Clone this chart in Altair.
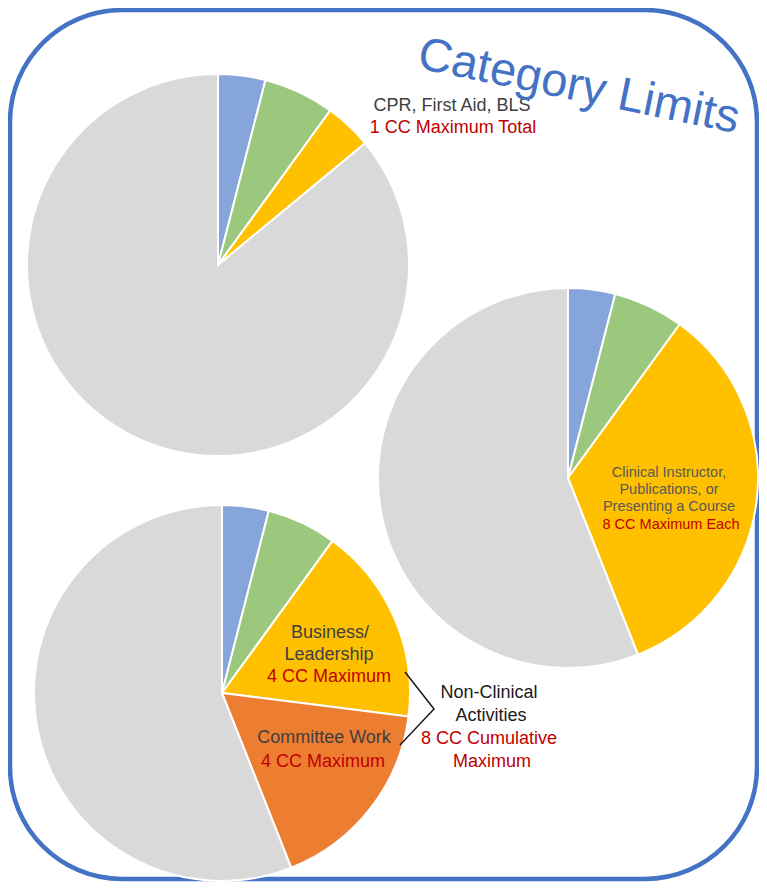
import altair as alt
import pandas as pd

# ---------------- data ----------------
BLUE = "#86A5DA"
GREEN = "#9BC87D"
YELLOW = "#FFC000"
ORANGE = "#ED7D31"
GREY = "#D9D9D9"
FRAME = "#4472C4"
RED = "#C00000"
DARK = "#404040"

pie1_values = [4, 6, 4, 86]
pie1_colors = [BLUE, GREEN, YELLOW, GREY]
pie2_values = [4, 6, 34, 56]
pie2_colors = [BLUE, GREEN, YELLOW, GREY]
pie3_values = [4, 6, 17, 17, 56]
pie3_colors = [BLUE, GREEN, YELLOW, ORANGE, GREY]

pie_cx = [218, 568, 222]
pie_cy = [265, 478, 693]
pie_r = [191, 190, 188]

label_text = [
    "CPR, First Aid, BLS", "1 CC Maximum Total",
    "Clinical Instructor,", "Publications, or", "Presenting a Course", "8 CC Maximum Each",
    "Business/", "Leadership", "4 CC Maximum",
    "Committee Work", "4 CC Maximum",
    "Non-Clinical", "Activities", "8 CC Cumulative", "Maximum",
]
label_x = [452, 453, 669, 669, 669, 671, 330, 329, 329, 324, 323, 489, 491, 489, 492]
label_y = [106, 128, 473, 490, 507, 525, 633, 655, 677, 738, 762, 693, 716, 739, 762]
label_color = [DARK, RED, "#595959", "#595959", "#595959", RED,
               DARK, DARK, RED, DARK, RED, "#1A1A1A", "#1A1A1A", RED, RED]
label_size = [18, 18, 14.5, 14.5, 14.5, 14.5, 18, 18, 18, 18, 18, 18, 18, 18, 18]

title_text = ["Category Limits"]
title_x = [416]
title_y = [68]

bracket_x = [405, 434, 400]
bracket_y = [672, 709, 745]

frame_x = [10]
frame_x2 = [757]
frame_y = [10]
frame_y2 = [879]

# ---------------- chart ----------------
W, H = 751, 874
xs = alt.Scale(domain=[8, 8 + W], nice=False, zero=False)
ys = alt.Scale(domain=[8, 8 + H], nice=False, zero=False, reverse=True)


def pie(values, colors, cx, cy, r):
    df = pd.DataFrame({
        "order": list(range(len(values))),
        "value": values,
        "color": colors,
        "cx": [cx] * len(values),
        "cy": [cy] * len(values),
    })
    return alt.Chart(df).mark_arc(radius=r, stroke="white", strokeWidth=2).encode(
        theta=alt.Theta("value:Q", stack=True, scale=alt.Scale(domain=[0, 100])),
        order=alt.Order("order:Q"),
        color=alt.Color("color:N", scale=None),
        x=alt.X("cx:Q", scale=xs, axis=None),
        y=alt.Y("cy:Q", scale=ys, axis=None),
    )


frame = alt.Chart(pd.DataFrame({"x": frame_x, "x2": frame_x2, "y": frame_y, "y2": frame_y2})).mark_rect(
    filled=False, stroke=FRAME, strokeWidth=4.5, cornerRadius=112
).encode(
    x=alt.X("x:Q", scale=xs, axis=None), x2="x2:Q",
    y=alt.Y("y:Q", scale=ys, axis=None), y2="y2:Q",
)

p1 = pie(pie1_values, pie1_colors, pie_cx[0], pie_cy[0], pie_r[0])
p2 = pie(pie2_values, pie2_colors, pie_cx[1], pie_cy[1], pie_r[1])
p3 = pie(pie3_values, pie3_colors, pie_cx[2], pie_cy[2], pie_r[2])

labels = alt.Chart(pd.DataFrame({
    "t": label_text, "x": label_x, "y": label_y, "c": label_color, "s": label_size,
})).mark_text(font="Liberation Sans", align="center", baseline="middle").encode(
    x=alt.X("x:Q", scale=xs, axis=None),
    y=alt.Y("y:Q", scale=ys, axis=None),
    text="t:N",
    color=alt.Color("c:N", scale=None),
    size=alt.Size("s:Q", scale=None),
)

title = alt.Chart(pd.DataFrame({"t": title_text, "x": title_x, "y": title_y})).mark_text(
    font="Liberation Sans", fontSize=47, angle=11.5, align="left", baseline="alphabetic", color=FRAME
).encode(
    x=alt.X("x:Q", scale=xs, axis=None),
    y=alt.Y("y:Q", scale=ys, axis=None),
    text="t:N",
)

bracket = alt.Chart(pd.DataFrame({"x": bracket_x, "y": bracket_y, "o": [0, 1, 2]})).mark_line(
    color="#1A1A1A", strokeWidth=1.5
).encode(
    x=alt.X("x:Q", scale=xs, axis=None),
    y=alt.Y("y:Q", scale=ys, axis=None),
    order="o:Q",
)

chart = alt.layer(frame, p1, p2, p3, bracket, labels, title).properties(
    width=W, height=H, padding=0, autosize=alt.AutoSizeParams(type="none"), background="white"
).configure_view(stroke=None)

chart.save("out.html", embed_options={"renderer": "svg", "actions": False})
